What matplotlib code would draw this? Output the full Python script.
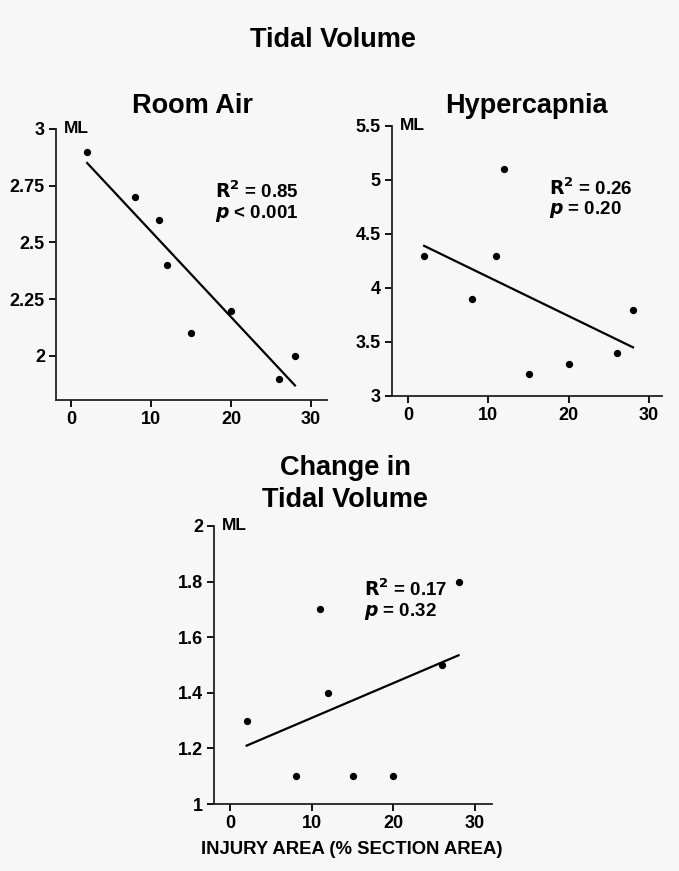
import numpy as np
import matplotlib
matplotlib.use('Agg')
import matplotlib.pyplot as plt

plt.rcParams['font.family'] = ['Liberation Sans', 'DejaVu Sans']
plt.rcParams['font.weight'] = 'bold'

# injury area (% section area), same animals in every panel
injury = [2, 8, 11, 12, 15, 20, 26, 28]

room_air = [2.9, 2.7, 2.6, 2.4, 2.1, 2.2, 1.9, 2.0]
hypercapnia = [4.3, 3.9, 4.3, 5.1, 3.2, 3.3, 3.4, 3.8]
change = [1.3, 1.1, 1.7, 1.4, 1.1, 1.1, 1.5, 1.8]

# regression line end points (x = 2 and x = 28)
fit_x = [2, 28]
fit_room = [2.85, 1.87]
fit_hyper = [4.39, 3.45]
fit_change = [1.21, 1.535]

room_ticks = [2, 2.25, 2.5, 2.75, 3]
room_labels = ['2', '2.25', '2.5', '2.75', '3']
hyper_ticks = [3, 3.5, 4, 4.5, 5, 5.5]
hyper_labels = ['3', '3.5', '4', '4.5', '5', '5.5']
change_ticks = [1, 1.2, 1.4, 1.6, 1.8, 2]
change_labels = ['1', '1.2', '1.4', '1.6', '1.8', '2']
x_ticks = [0, 10, 20, 30]

bg = '#f7f7f7'
fig = plt.figure(figsize=(6.79, 8.71), dpi=100, facecolor=bg)


def panel(rect, y, fit, yticks, ylabels, ylim, xlim, stats):
    ax = fig.add_axes(rect, facecolor=bg)
    ax.scatter(injury, y, s=18, color='black', zorder=3)
    ax.plot(fit_x, fit, color='black', lw=1.6)
    ax.set_xlim(*xlim)
    ax.set_ylim(*ylim)
    ax.set_xticks(x_ticks)
    ax.set_yticks(yticks)
    ax.set_yticklabels(ylabels)
    for s in ['top', 'right']:
        ax.spines[s].set_visible(False)
    for s in ['left', 'bottom']:
        ax.spines[s].set_linewidth(1.3)
        ax.spines[s].set_color('#222222')
    ax.tick_params(direction='out', length=5, width=1.3, labelsize=13, pad=3)
    for lab in ax.get_xticklabels() + ax.get_yticklabels():
        lab.set_fontweight('bold')
    ax.text(0.03, 1.0, 'ML', transform=ax.transAxes, fontsize=12.5,
            fontweight='bold', va='center', ha='left')
    ax.text(stats[0], stats[1], stats[2], transform=ax.transAxes,
            fontsize=13.5, fontweight='bold', va='top', ha='left',
            linespacing=1.05)
    return ax


ax1 = panel([0.0825, 0.5408, 0.399, 0.3111], room_air, fit_room,
            room_ticks, room_labels, (1.806, 3), (-1.9, 32),
            (0.585, 0.81, '$\\mathbf{R^2}$ = 0.85\n$\\mathit{p}$ < 0.001'))
ax2 = panel([0.5773, 0.5454, 0.3976, 0.310], hypercapnia, fit_hyper,
            hyper_ticks, hyper_labels, (3, 5.5), (-2, 31.6),
            (0.58, 0.81, '$\\mathbf{R^2}$ = 0.26\n$\\mathit{p}$ = 0.20'))
ax3 = panel([0.3152, 0.0769, 0.4094, 0.3192], change, fit_change,
            change_ticks, change_labels, (1, 2), (-2, 32.1),
            (0.54, 0.81, '$\\mathbf{R^2}$ = 0.17\n$\\mathit{p}$ = 0.32'))

fig.text(333 / 679, 1 - 47 / 871, 'Tidal Volume', ha='center', va='baseline',
         fontsize=19.5, fontweight='bold')
fig.text(193 / 679, 1 - 113 / 871, 'Room Air', ha='center', va='baseline',
         fontsize=19.5, fontweight='bold')
fig.text(526 / 679, 1 - 113 / 871, 'Hypercapnia', ha='center', va='baseline',
         fontsize=19.5, fontweight='bold')
fig.text(345 / 679, 1 - 475 / 871, 'Change in', ha='center',
         va='baseline', fontsize=19.5, fontweight='bold')
fig.text(345 / 679, 1 - 507 / 871, 'Tidal Volume', ha='center',
         va='baseline', fontsize=19.5, fontweight='bold')
fig.text(352 / 679, 1 - 849 / 871, 'INJURY AREA (% SECTION AREA)',
         ha='center', va='center', fontsize=13.3, fontweight='bold')

fig.savefig('out.png', dpi=100, facecolor=bg)
